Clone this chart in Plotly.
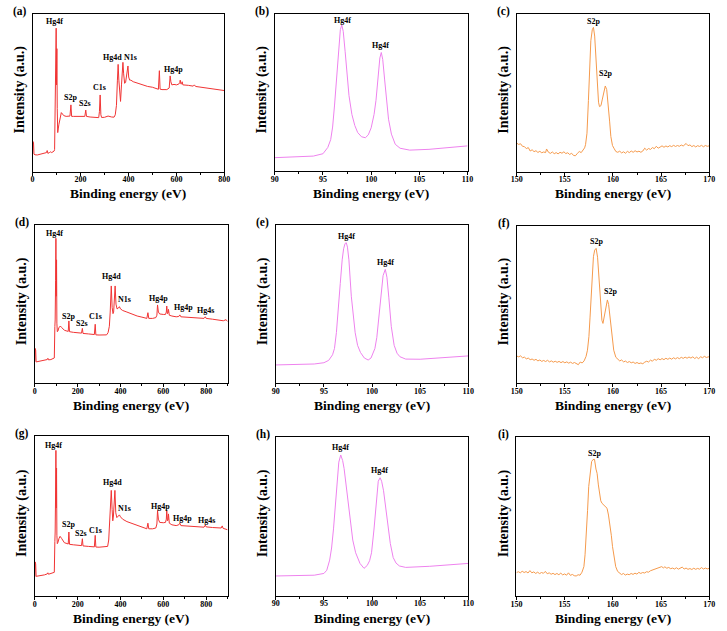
import plotly.graph_objects as go

# ---------------- data (intensity in arbitrary units, 0-100 of axis height) -------------
# (a) survey
a_x = [0,2,4,6,10,20,35,50,58,61,64,70,76,80,86,90,92,93.5,95,97,98.5,100,101.5,103,105,107,110,115,120,125,130,140,150,156,160,163,170,190,210,218,222,225,240,260,276,279,282,285,288,300,315,330,340,345,350,354,357,360,364,367,371,374,377,380,384,388,392,395,398,401,405,410,420,440,460,480,500,520,525,529,532,540,560,570,574,577,581,590,600,610,614,616,619,622,624,627,635,650,670,675,680,700,720,740,760,780,800]
a_y = [11.2,19,18.5,11,10.6,10.5,11,11.5,12,13.3,11.5,12,12.5,12,12.5,13,14,37,40,60,91,55,78,40,24.7,27,30,35,37.4,36.5,35.5,35,35,35.2,42.3,35,35,34.8,34.8,35,39,35,34.6,34.4,34.2,38,48.6,36,34.3,34.4,35.2,34.6,34.5,36,42,58,68,58,46,44.5,55,66,69.3,62,56,56.5,60,65,67,60,58,58,57,56,55,54,53.5,52.5,52.2,64,52.3,52,52,53,60.7,57,55,55.3,55,55.5,56.5,58,55.5,55.7,57,55,55,54.7,54.2,55,54,53.5,53,52.7,52.3,51.8,51.4]

# (d) survey
d_x = [0,2,4,6,15,30,45,58,61,64,75,85,91,93.5,95,97,98.5,100,101.5,103,105,108,112,119,125,138,150,156,159,162,180,200,218,222,225,250,270,278,282,285,300,320,335,342,348,352,357,361,365,368,372,375,379,384,390,395,400,410,430,450,478,500,523,528,532,550,565,570,573,577,583,600,610,614,616,619,622,624,628,640,660,672,677,682,700,730,770,790,796,800,830,860,880,893,900]
d_y = [13.7,22,21,13.5,13.7,14,14.5,15,15.8,14.8,15,15.5,16,35.8,40,65,91.6,55,78,38,32.6,33,35,36.2,35.3,33.5,33,32.8,39.4,32.6,32.2,32,31.7,34.7,31.5,31.2,31,30.8,37.3,30.6,30.5,30.3,30.6,32,36,45,61.5,48,44,45,58,61.5,50,47,47.5,48.4,47,46,45,43.8,42.5,41.8,41,44.6,41,41,41.5,43,49.5,45,43.8,43.5,43.5,45,48.8,44,44.5,46.7,43,42.5,42,42.2,43.2,42,41.8,41.5,41,41,42,41,40.5,40,39.5,40.2,39]

# (g) survey
g_x = [0,2,4,6,15,30,45,58,61,64,75,85,91,93.5,95,97,98.5,100,101.5,103,105,108,113,118,125,138,150,156,159,162,180,200,218,222,225,250,270,278,282,285,300,320,340,345,350,354,357,361,364,367,371,374,378,383,390,395,400,410,430,450,478,500,523,528,532,550,565,570,573,577,583,600,610,614,616,619,622,624,628,640,660,672,677,682,700,730,770,790,796,800,830,860,870,875,879,900]
g_y = [12,21.3,20,12.3,12.4,12.8,13.2,13.8,14.5,13.6,14,14.3,14.8,34,40,65,91,55,80,38,32.7,33.5,36,37.3,36,33.3,32.8,32.5,40,32.3,32,31.8,31.5,35.8,31.3,31,30.8,30.7,37.9,30.6,30.5,30.6,31,35,45,55,66,54,47,50,60,66,52,49,50,50.7,49.5,48,46.5,45.5,44,43,42,45.5,42,42,42.5,45,53.4,48,46,45.8,46,48,53.4,47,47.5,51.3,45.5,44.5,44,44.5,45.5,44,43.8,43.5,43,43,44.3,43.2,42.8,42.4,42.5,43.8,42.3,41.4]

# (b) Hg4f
b_x = [90,92,94,95,95.5,95.8,96.0,96.2,96.4,96.6,96.8,96.95,97.1,97.3,97.5,97.7,98.0,98.3,98.6,99.0,99.4,99.7,100.0,100.3,100.5,100.7,100.9,101.05,101.2,101.4,101.6,101.8,102.1,102.5,103,104,106,108,110]
b_y = [8.5,8.8,9.5,11,15,20,28,42,60,78,90,93,89,76,60,48,36,29,24.5,21.8,21.2,23,27.5,36,45,60,72,75.5,71,58,44,33,23.5,17,14.5,13.3,13.8,14.8,16]

# (e) Hg4f
e_x = [90,92,94,95,95.5,95.9,96.1,96.3,96.5,96.7,96.9,97.05,97.2,97.33,97.45,97.6,97.85,98.05,98.25,98.5,98.8,99.2,99.6,99.9,100.1,100.3,100.5,100.7,100.97,101.15,101.38,101.55,101.75,102.0,102.3,102.6,102.9,103.5,105,107,110]
e_y = [11.6,11.8,12.2,13,14.5,18,22,32,45,63,78,85,88.3,88.8,86,78,55,42,32,24,19.5,16,14.7,16,18.5,22,29,42,57,68,72,67,54,36,24,19,16.8,15.3,15.2,16,17.3]

# (h) Hg4f
h_x = [90,92,94,95.0,95.3,95.6,95.8,96.0,96.2,96.35,96.55,96.75,96.95,97.1,97.4,97.73,98.0,98.3,98.75,99.17,99.5,99.75,99.95,100.2,100.46,100.65,100.84,101.0,101.2,101.48,101.9,102.2,102.5,102.85,103.5,106,108,110]
h_y = [12.4,12.5,12.9,14,16,22.4,30,42,58,70,84,88.5,85,80,64.4,45.5,35,27,20.3,17.2,19,22,27,41.3,62.3,72,74.2,72,66,51.8,32.9,24,20.5,18.7,17.8,18.5,19.3,20.3]

# (c) S2p
c_x = [150.0,150.2,150.4,150.6,150.8,151.0,151.2,151.4,151.6,151.8,152.0,152.2,152.4,152.6,152.8,153.0,153.1,153.3,153.5,153.7,153.9,154.1,154.3,154.5,154.7,154.9,155.1,155.3,155.5,155.7,155.9,156.1,156.3,156.5,156.7,156.9,157.05,157.15,157.3,157.45,157.55,157.7,157.85,157.97,158.1,158.25,158.38,158.5,158.6,158.75,158.9,159.0,159.1,159.2,159.35,159.5,159.65,159.78,159.95,160.1,160.3,160.5,160.7,160.9,161.1,161.3,161.5,161.7,161.9,162.1,162.3,162.5,162.7,162.9,163.1,163.3,163.5,163.7,163.9,164.1,164.3,164.5,164.7,164.9,165.1,165.3,165.5,165.7,165.9,166.1,166.3,166.5,166.7,166.9,167.1,167.3,167.5,167.6,167.8,168.0,168.2,168.4,168.6,168.8,169.0,169.2,169.4,169.6,169.8,170.0]
c_y = [18.0,17.2,17.6,16.0,15.8,14.5,15.2,13.0,13.8,12.6,13.2,12.1,12.8,11.9,12.4,12.0,14.3,12.2,11.5,12.4,11.3,12.0,11.2,12.2,11.6,12.5,11.4,11.9,10.8,11.6,10.2,10.0,11.5,12.7,12.0,13.7,15.0,17,24.3,45,66.6,83,90,91.5,86,70,51.8,44,41.2,41.8,46,49.7,53,54.3,52,44,32,22.2,16.5,14.8,12.7,12.2,12.9,11.8,12.5,11.6,12.8,12.0,13.0,12.2,13.2,12.4,12.9,12.2,13.0,14.8,13.6,14.6,14.0,15.2,14.5,16.0,14.8,15.5,16.3,15.4,16.2,15.6,16.4,15.8,16.6,15.9,16.5,16.0,16.8,16.2,17.0,17.8,16.4,16.9,15.8,16.5,15.6,16.4,15.9,16.6,15.7,16.5,16.0,16.3]

# (f) S2p
f_x = [150.0,150.2,150.4,150.6,150.8,151.0,151.2,151.4,151.6,151.8,152.0,152.2,152.4,152.6,152.8,153.0,153.2,153.4,153.6,153.8,154.0,154.2,154.4,154.6,154.8,155.0,155.2,155.4,155.6,155.8,156.0,156.2,156.4,156.6,156.8,157.0,157.2,157.35,157.5,157.62,157.73,157.85,157.97,158.1,158.25,158.4,158.52,158.62,158.72,158.85,158.96,159.08,159.2,159.32,159.42,159.55,159.68,159.8,159.95,160.08,160.3,160.5,160.7,160.9,161.1,161.3,161.5,161.7,161.9,162.1,162.3,162.5,162.7,162.9,163.1,163.3,163.5,163.7,163.9,164.1,164.3,164.5,164.7,164.9,165.1,165.3,165.5,165.7,165.9,166.1,166.3,166.5,166.7,166.9,167.1,167.3,167.5,167.7,167.9,168.1,168.3,168.5,168.7,168.9,169.1,169.3,169.5,169.7,169.9,170.0]
f_y = [17.3,16.8,17.4,16.2,16.6,15.5,16.0,15.0,15.4,14.6,15.2,14.2,14.8,13.9,14.5,13.8,14.6,13.6,14.2,13.4,14.0,13.3,13.9,13.1,13.8,13.0,13.6,12.8,13.4,12.6,13.2,12.4,11.8,13.5,12.9,14.2,17.0,21,29.6,42,57,70,80.3,84.5,85.6,80,70,58,48,40,38,42,46.5,51.5,52.9,50,42,34,26,21,16.5,15.2,14.2,14.8,13.6,14.1,13.2,13.8,13.0,13.5,12.6,13.2,12.5,12.9,12.4,13.4,14.0,13.5,14.7,14.0,15.3,14.6,15.6,14.9,15.7,15.0,15.9,15.2,16.0,15.3,16.2,15.5,16.3,15.6,16.5,15.8,16.6,15.9,16.7,16.0,16.8,15.7,16.6,15.5,16.9,16.2,17.1,16.4,17.0,16.9]

# (i) S2p
i_x = [150.0,150.2,150.4,150.6,150.8,151.0,151.2,151.4,151.6,151.8,152.0,152.2,152.4,152.6,152.8,153.0,153.2,153.4,153.6,153.8,154.0,154.2,154.4,154.6,154.8,155.0,155.2,155.4,155.6,155.8,156.0,156.2,156.4,156.6,156.8,157.0,157.12,157.25,157.38,157.5,157.65,157.8,157.95,158.1,158.25,158.37,158.5,158.6,158.75,158.88,159.05,159.2,159.4,159.55,159.7,159.85,159.97,160.15,160.3,160.5,160.7,160.9,161.1,161.3,161.5,161.7,161.9,162.1,162.3,162.5,162.7,162.9,163.1,163.3,163.5,163.7,163.9,164.1,164.3,164.5,164.7,164.9,165.07,165.25,165.4,165.6,165.8,166.0,166.2,166.4,166.6,166.8,167.0,167.2,167.4,167.6,167.8,168.0,168.2,168.4,168.6,168.8,169.0,169.2,169.4,169.6,169.8,170.0]
i_y = [14.7,15.3,14.6,15.6,14.8,15.4,14.5,16.0,14.6,15.2,14.2,15.0,14.1,14.8,14.3,15.5,14.0,14.6,13.7,14.3,13.5,14.2,13.4,14.4,13.3,13.9,13.1,14.6,13.0,13.6,12.8,12.6,13.4,13.1,15.0,18.5,26,37.4,54,69,79,84.7,86,86.1,80,77.3,70,64.7,60,58.4,57.2,56.3,55.3,51,45.8,38,31.1,24,18.5,15.5,14.3,13.5,14.2,13.2,13.8,13.4,14.2,13.6,14.4,13.8,14.9,14.2,14.8,14.5,15.3,15.0,15.9,16.4,16.8,17.3,17.6,18.0,18.5,17.7,18.4,17.5,18.0,17.2,17.6,17.0,17.8,16.9,17.4,18.2,17.0,17.6,16.8,17.3,16.7,17.5,16.8,17.4,16.9,17.9,17.0,17.6,17.1,17.4]

# peak labels (text, x, y)
a_lab = [("Hg4f",92.7,95.1),("S2p",156.7,47.1),("S2s",220.8,42.9),("C1s",279.4,53.5),("Hg4d",334,72.5),("N1s",410,72.5),("Hg4p",587.5,64.5)]
d_lab = [("Hg4f",92,94.7),("S2p",156,42),("S2s",220,38),("C1s",283,42.5),("Hg4d",358,67.4),("N1s",419,53),("Hg4p",577,53.7),("Hg4p",692,48),("Hg4s",799,46.3)]
g_lab = [("Hg4f",87,93.8),("S2p",159,44.7),("S2s",214,39.3),("C1s",283,41),("Hg4d",363,71),("N1s",419,55),("Hg4p",585,56),("Hg4p",691,48.4),("Hg4s",800,47)]
b_lab = [("Hg4f",97.0,96),("Hg4f",101.0,80)]
e_lab = [("Hg4f",97.3,93),("Hg4f",101.4,76)]
h_lab = [("Hg4f",96.7,93.3),("Hg4f",100.8,78.6)]
c_lab = [("S2p",157.97,95),("S2p",159.27,62)]
f_lab = [("S2p",158.25,90),("S2p",159.7,58)]
i_lab = [("S2p",158.1,90)]

RED = "#F03434"
VIO = "#EE82EE"
ORG = "#F59A4C"

W, H = 727, 631
FONT = "Liberation Serif, Times New Roman, serif"

# panel geometry in pixels: (left, right, top, bottom)
panels = [
    ("(a)", a_x, a_y, RED, (0, 800), 200, 100, a_lab, (27, 222, 14, 171.5)),
    ("(b)", b_x, b_y, VIO, (90, 110), 5, 2.5, b_lab, (273.3, 469.3, 14, 171)),
    ("(c)", c_x, c_y, ORG, (150, 170), 5, 2.5, c_lab, (519.3, 715, 14, 171.5)),
    ("(d)", d_x, d_y, RED, (0, 900), 200, 100, d_lab, (29.3, 225.3, 225, 383.3)),
    ("(e)", e_x, e_y, VIO, (90, 110), 5, 2.5, e_lab, (274.3, 470, 225, 383.3)),
    ("(f)", f_x, f_y, ORG, (150, 170), 5, 2.5, f_lab, (519.3, 715, 225.7, 383.3)),
    ("(g)", g_x, g_y, RED, (0, 900), 200, 100, g_lab, (29.3, 225.3, 436, 596)),
    ("(h)", h_x, h_y, VIO, (90, 110), 5, 2.5, h_lab, (274.3, 470, 436.7, 595.7)),
    ("(i)", i_x, i_y, ORG, (150, 170), 5, 2.5, i_lab, (519, 715, 437.3, 596)),
]

fig = go.Figure()
layout = dict(width=W, height=H, margin=dict(l=0, r=0, t=0, b=0),
              paper_bgcolor="white", plot_bgcolor="white", showlegend=False)
annotations = []

def note(text, x, y, xref, yref, size, angle=0):
    annotations.append(dict(text=text, x=x, y=y, xref=xref, yref=yref, showarrow=False,
                            xanchor="center", yanchor="middle", textangle=angle,
                            font=dict(family=FONT, size=size, color="black")))

for k, (tag, xs, ys, col, xr, dt, mdt, labs, (l, r, t, b)) in enumerate(panels):
    n = k + 1
    xa = "x" if n == 1 else f"x{n}"
    ya = "y" if n == 1 else f"y{n}"
    fig.add_trace(go.Scatter(x=xs, y=ys, mode="lines", xaxis=xa, yaxis=ya,
                             line=dict(color=col, width=1), hoverinfo="skip"))
    layout["xaxis" if n == 1 else f"xaxis{n}"] = dict(
        domain=[l / W, r / W], anchor=ya, range=list(xr), dtick=dt, tick0=xr[0],
        showgrid=False, zeroline=False, showline=True, mirror=True,
        linecolor="black", linewidth=1, ticks="outside", ticklen=3, tickwidth=1,
        tickcolor="black", ticklabelstandoff=-3,
        minor=dict(dtick=mdt, ticks="outside", ticklen=2, tickcolor="black", showgrid=False),
        tickfont=dict(family=FONT, size=8, color="black", weight="bold"))
    layout["yaxis" if n == 1 else f"yaxis{n}"] = dict(
        domain=[1 - b / H, 1 - t / H], anchor=xa, range=[0, 100],
        showgrid=False, zeroline=False, showline=True, mirror=True,
        linecolor="black", linewidth=1, ticks="", showticklabels=False)
    for txt, lx, ly in labs:
        note(f"<b>{txt}</b>", lx, ly, xa, ya, 8)
    note(f"<b>{tag}</b>", (l - 13) / W, 1 - (t - 2.5) / H, "paper", "paper", 11.5)
    note("<b>Binding energy (eV)</b>", (l + r) / 2 / W, 1 - (b + 22.5) / H, "paper", "paper", 13.5)
    note("<b>Intensity (a.u.)</b>", (l - 13) / W, 1 - ((t + b) / 2 - 3) / H, "paper", "paper", 14, -90)

layout["annotations"] = annotations
fig.update_layout(**layout)
fig.write_html("out.html")
